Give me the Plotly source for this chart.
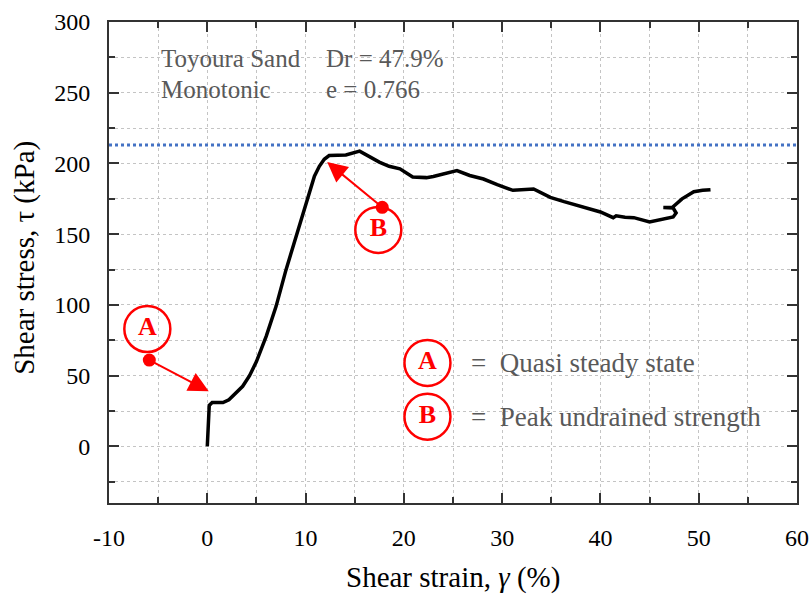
import plotly.graph_objects as go

# curve
strain = [0.0, 0.1, 0.2, 0.5, 1.6, 2.2, 2.8, 3.6, 4.3, 5.0, 6.0, 7.0, 8.0, 9.0, 9.7, 10.3,
          10.9, 11.4, 11.9, 12.4, 13.2, 14.1, 15.5, 16.5, 17.5, 18.5, 19.6, 20.9, 22.3,
          23.0, 24.0, 25.4, 26.7, 28.1, 29.5, 31.1, 33.2, 34.9, 36.3, 37.6, 40.0, 41.3,
          41.6, 42.5, 43.4, 45.0, 46.4, 47.4, 47.7, 47.4, 46.4, 47.3, 48.3, 49.5, 50.4,
          51.2]
stress = [0.0, 15.0, 29.0, 31.0, 31.0, 33.0, 37.0, 42.5, 50.0, 60.0, 78.0, 99.0, 124.6,
          148.0, 164.6, 178.0, 191.0, 198.0, 203.0, 205.6, 205.8, 206.0, 208.7, 205.0,
          201.0, 198.0, 196.2, 190.4, 190.0, 190.8, 192.6, 195.0, 191.5, 189.0, 185.0,
          181.0, 182.0, 176.0, 173.0, 170.4, 165.7, 161.7, 163.0, 162.0, 161.7, 158.7,
          161.0, 162.2, 165.0, 168.5, 168.8, 168.8, 175.0, 180.0, 181.0, 181.5]

peak_line = 213

x_ticks = [-10, 0, 10, 20, 30, 40, 50, 60]
x_labels = ["-10", "0", "10", "20", "30", "40", "50", "60"]
y_ticks = [0, 50, 100, 150, 200, 250, 300]

# state markers: label, dot, arrow tip, circle centre
marks = {
    "A": {"dot": (-5.9, 61), "tip": (0.15, 39), "circle": (-6.1, 83)},
    "B": {"dot": (17.8, 169), "tip": (12.2, 201), "circle": (17.4, 153)},
}
legend_rows = [("A", "=  Quasi steady state", 59), ("B", "=  Peak undrained strength", 21)]

RED = "#ff0000"
GRAY = "#595959"
SERIF = "Liberation Serif, Times New Roman, serif"

fig = go.Figure()

fig.add_trace(go.Scatter(x=[-10, 60], y=[peak_line, peak_line], mode="lines",
                         line=dict(color="#4472c4", width=3, dash="dot"),
                         hoverinfo="skip"))

fig.add_trace(go.Scatter(x=strain, y=stress, mode="lines",
                         line=dict(color="black", width=3.5)))


def letter_circle(key, xv, yv):
    return go.Scatter(x=[xv], y=[yv], mode="markers+text",
                      text=[f"<b>{key}</b>"], textposition="middle center",
                      textfont=dict(family=SERIF, size=26, color=RED),
                      marker=dict(symbol="circle-open", size=46, color=RED,
                                  line=dict(color=RED, width=2.5)))


for key, m in marks.items():
    fig.add_trace(go.Scatter(x=[m["dot"][0]], y=[m["dot"][1]], mode="markers",
                             marker=dict(color=RED, size=13)))
    fig.add_trace(letter_circle(key, *m["circle"]))
    fig.add_annotation(x=m["tip"][0], y=m["tip"][1], ax=m["dot"][0], ay=m["dot"][1],
                       axref="x", ayref="y", text="", showarrow=True,
                       arrowhead=2, arrowsize=2, arrowwidth=2, arrowcolor=RED)

for key, label, yv in legend_rows:
    fig.add_trace(letter_circle(key, 22.4, yv))
    fig.add_annotation(x=26.6, y=yv, text=label, showarrow=False, xanchor="left",
                       font=dict(family=SERIF, size=27, color=GRAY))

for txt, xv, yv in [("Toyoura Sand", -4.9, 274), ("Dr = 47.9%", 11.9, 274),
                    ("Monotonic", -4.9, 252.5), ("e = 0.766", 11.9, 252.5)]:
    fig.add_annotation(x=xv, y=yv, text=txt, showarrow=False, xanchor="left",
                       font=dict(family=SERIF, size=25, color=GRAY))

# axis titles placed relative to the plot frame so the frame stays fixed
fig.add_annotation(xref="paper", yref="paper", x=0.5, y=-0.154, yanchor="middle",
                   text="Shear strain, <i>γ</i> (%)", showarrow=False,
                   font=dict(family=SERIF, size=29, color="black"))
fig.add_annotation(xref="paper", yref="paper", x=-0.122, y=0.51, xanchor="center",
                   yanchor="middle", text="Shear stress, τ (kPa)", showarrow=False,
                   textangle=-90, font=dict(family=SERIF, size=29, color="black"))

grid = dict(showgrid=True, gridcolor="#c4c4c4", griddash="dot", gridwidth=1)
axis_common = dict(
    showline=True, linecolor="#333333", linewidth=2, mirror="ticks",
    ticks="inside", ticklen=10, tickwidth=2, tickcolor="#333333",
    zeroline=False, automargin=False, ticklabelstandoff=12, ticklabeloverflow="allow",
    tickfont=dict(family=SERIF, size=24, color="black"), **grid,
)
minor_common = dict(ticks="inside", ticklen=6, tickwidth=2, tickcolor="#333333", **grid)

fig.update_xaxes(range=[-10, 60], tickvals=x_ticks, ticktext=x_labels,
                 minor=dict(dtick=5, **minor_common), **axis_common)
fig.update_yaxes(range=[-40, 300], tickvals=y_ticks,
                 minor=dict(dtick=25, tick0=0, **minor_common), **axis_common)

fig.update_layout(width=811, height=594, showlegend=False,
                  plot_bgcolor="white", paper_bgcolor="white",
                  margin=dict(l=109, r=14, t=22, b=91))

# drop the default page margin so the figure sits at the window's corner
fig.write_html("out.html", config={"displayModeBar": False},
               post_script="document.body.style.margin='0';"
                           "document.body.style.overflow='hidden';")
